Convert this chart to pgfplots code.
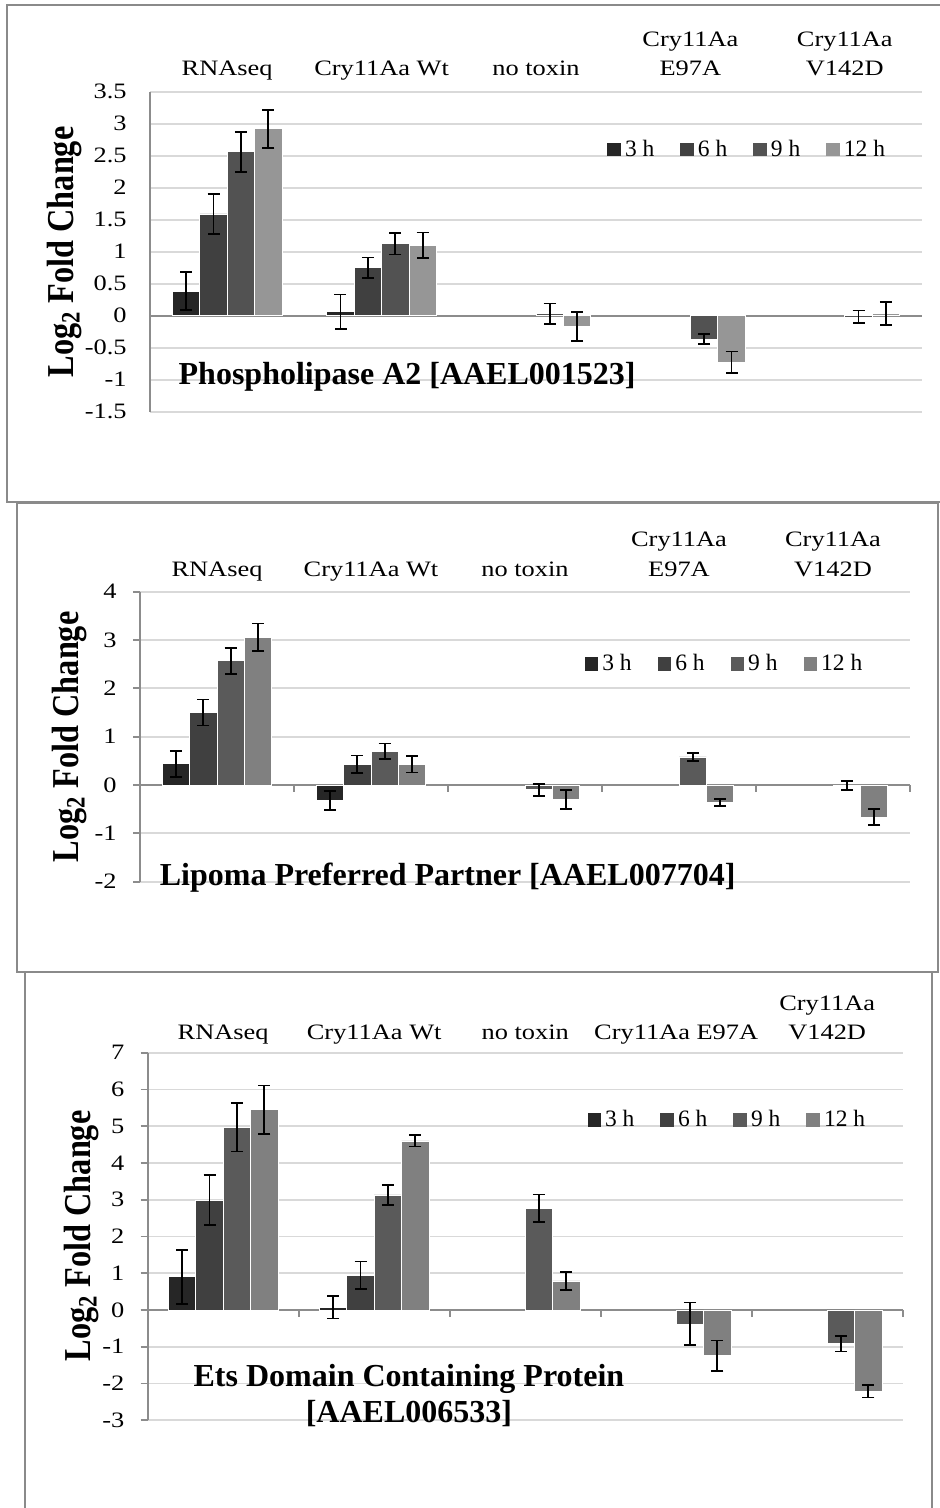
\documentclass[border=0pt]{standalone}
\usepackage{pgfplots}
\pgfplotsset{compat=1.18}
\usepackage{pgfplotstable}
\usepackage{fontspec}
\setmainfont{Liberation Serif}
\newfontfamily\strfont[FakeStretch=1.2]{Liberation Serif}
\newfontfamily\ylabfont[FakeStretch=0.85]{Liberation Serif}
\definecolor{cA}{HTML}{262626}
\definecolor{cB}{HTML}{404040}
\definecolor{cC}{HTML}{525252}
\definecolor{cD}{HTML}{969696}
\definecolor{cCC}{HTML}{5A5A5A}
\definecolor{cDD}{HTML}{808080}
\definecolor{gridc}{HTML}{D9D9D9}
\definecolor{axc}{HTML}{8C8C8C}
\definecolor{framec}{HTML}{8A8A8A}
\newcommand\catfont{\strfont\fontsize{11}{11}\selectfont}
\newcommand\titfont{\bfseries\fontsize{16}{16}\selectfont}
\newcommand\ylfont{\ylabfont\bfseries\fontsize{19}{19}\selectfont}

\pgfplotstableread{
x   y3    e3   y6   e6   y9     e9   y12   e12
0.5 0.385 0.30 1.59 0.31 2.56   0.31 2.92  0.30
1.5 0.06  0.27 0.75 0.16 1.125  0.17 1.10  0.20
2.5 nan   nan  nan  nan  0.03   0.16 -0.17 0.23
3.5 nan   nan  nan  nan  -0.365 0.08 -0.73 0.17
4.5 nan   nan  nan  nan  -0.02  0.10 0.04  0.18
}\tblA
\pgfplotstableread{
x   y3    e3   y6   e6   y9    e9   y12   e12
0.5 0.44  0.27 1.50 0.27 2.57  0.27 3.06  0.28
1.5 -0.32 0.19 0.43 0.18 0.70  0.16 0.43  0.17
2.5 nan   nan  nan  nan  -0.10 0.12 -0.30 0.19
3.5 nan   nan  nan  nan  0.58  0.08 -0.36 0.075
4.5 nan   nan  nan  nan  -0.01 0.10 -0.66 0.17
}\tblB
\pgfplotstableread{
x   y3    e3   y6   e6   y9    e9   y12   e12
0.5 0.90  0.73 2.99 0.68 4.97  0.66 5.45  0.66
1.5 0.07  0.30 0.94 0.38 3.13  0.27 4.60  0.15
2.5 nan   nan  nan  nan  2.77  0.37 0.79  0.25
3.5 nan   nan  nan  nan  -0.38 0.58 -1.25 0.42
4.5 nan   nan  nan  nan  -0.92 0.21 -2.21 0.17
}\tblC

\pgfplotsset{
 panel/.style={
  scale only axis,
  xmin=0, xmax=5,
  axis x line=none,
  axis y line*=left,
  y axis line style={axc, line width=0.9pt},
  ymajorgrids,
  grid style={gridc, line width=0.9pt},
  xtick=\empty,
  ybar=0pt, bar width=13.7pt,
  clip=false,
  tick style={axc, line width=0.9pt},
  ytick align=outside,
  yticklabel style={font=\strfont\fontsize{11}{12}\selectfont, inner sep=0pt, anchor=east},
  /pgf/number format/assume math mode=true,
  /pgf/number format/fixed,
  extra y ticks={0},
  extra y tick labels={},
  extra y tick style={grid style={axc, line width=0.9pt}},
  legend style={draw=none, fill=none, legend columns=4, font=\fontsize{11.75}{12}\selectfont, inner sep=0pt, anchor=west, /tikz/every even column/.append style={column sep=11pt}},
  legend image code/.code={\path[##1, draw=none] (0pt,-3.4pt) rectangle (6.8pt,3.4pt);},
  every axis plot/.append style={draw=white, line width=0.4pt},
  error bars/y dir=both, error bars/y explicit,
  error bars/error bar style={black, line width=0.9pt},
  error bars/error mark options={black, rotate=90, mark size=3pt, line width=0.9pt},
 },
}

\begin{document}
\begin{tikzpicture}
\useasboundingbox (0,0) rectangle (469.5pt,754pt);
\draw[framec, line width=1pt] (3.5pt,751.5pt) rectangle (476pt,503pt);
\draw[framec, line width=1pt, fill=white] (8.5pt,502.5pt) rectangle (469pt,268pt);
\draw[framec, line width=1pt, fill=white] (12.5pt,268pt) rectangle (466pt,-10pt);

% ---------- Panel 1 ----------
\begin{axis}[panel, at={(75pt,548.15pt)}, anchor=south west,
  width=386pt, height=160pt, ymin=-1.5, ymax=3.5, ytick distance=0.5,
  major tick length=0pt,
  yticklabel style={xshift=-11.5pt},
  legend style={at={(0.592,0.819)}}]
\addplot[fill=cA] table[x=x, y=y3, y error=e3] {\tblA};
\addplot[fill=cB] table[x=x, y=y6, y error=e6] {\tblA};
\addplot[fill=cC] table[x=x, y=y9, y error=e9] {\tblA};
\addplot[fill=cD] table[x=x, y=y12, y error=e12] {\tblA};
\legend{3 h, 6 h, 9 h, 12 h}
\node[font=\catfont, anchor=base, yshift=7.85pt] at (axis cs:0.5,3.5) {RNAseq};
\node[font=\catfont, anchor=base, yshift=7.85pt] at (axis cs:1.5,3.5) {Cry11Aa Wt};
\node[font=\catfont, anchor=base, yshift=7.85pt] at (axis cs:2.5,3.5) {no toxin};
\node[font=\catfont, anchor=base, yshift=22.35pt] at (axis cs:3.5,3.5) {Cry11Aa};
\node[font=\catfont, anchor=base, yshift=7.85pt] at (axis cs:3.5,3.5) {E97A};
\node[font=\catfont, anchor=base, yshift=22.35pt] at (axis cs:4.5,3.5) {Cry11Aa};
\node[font=\catfont, anchor=base, yshift=7.85pt] at (axis cs:4.5,3.5) {V142D};
\node[font=\titfont, anchor=base west] at (axis cs:0.14,-1.08) {Phospholipase A2 [AAEL001523]};
\end{axis}
\node[rotate=90, font=\ylfont] at (32.5pt,628pt) {Log\textsubscript{2} Fold Change};

% ---------- Panel 2 ----------
\begin{axis}[panel, at={(70pt,313.15pt)}, anchor=south west,
  width=385pt, height=145pt, ymin=-2, ymax=4, ytick distance=1,
  major tick length=3.5pt,
  yticklabel style={xshift=-8pt},
  legend style={at={(0.577,0.751)}}]
\addplot[fill=cA] table[x=x, y=y3, y error=e3] {\tblB};
\addplot[fill=cB] table[x=x, y=y6, y error=e6] {\tblB};
\addplot[fill=cCC] table[x=x, y=y9, y error=e9] {\tblB};
\addplot[fill=cDD] table[x=x, y=y12, y error=e12] {\tblB};
\legend{3 h, 6 h, 9 h, 12 h}
\pgfplotsinvokeforeach{1,2,3,4,5}{\draw[axc, line width=0.9pt] (axis cs:#1,0) -- ++(0pt,-3.5pt);}
\node[font=\catfont, anchor=base, yshift=7.85pt] at (axis cs:0.5,4) {RNAseq};
\node[font=\catfont, anchor=base, yshift=7.85pt] at (axis cs:1.5,4) {Cry11Aa Wt};
\node[font=\catfont, anchor=base, yshift=7.85pt] at (axis cs:2.5,4) {no toxin};
\node[font=\catfont, anchor=base, yshift=22.85pt] at (axis cs:3.5,4) {Cry11Aa};
\node[font=\catfont, anchor=base, yshift=7.85pt] at (axis cs:3.5,4) {E97A};
\node[font=\catfont, anchor=base, yshift=22.85pt] at (axis cs:4.5,4) {Cry11Aa};
\node[font=\catfont, anchor=base, yshift=7.85pt] at (axis cs:4.5,4) {V142D};
\node[font=\titfont, anchor=base west] at (axis cs:0.083,-2.07) {Lipoma Preferred Partner [AAEL007704]};
\end{axis}
\node[rotate=90, font=\ylfont] at (35pt,385.5pt) {Log\textsubscript{2} Fold Change};

% ---------- Panel 3 ----------
\begin{axis}[panel, at={(73.85pt,43.9pt)}, anchor=south west,
  width=377.5pt, height=183.75pt, ymin=-3, ymax=7, ytick distance=1,
  major tick length=3.5pt,
  yticklabel style={xshift=-8pt},
  legend style={at={(0.582,0.817)}}]
\addplot[fill=cA] table[x=x, y=y3, y error=e3] {\tblC};
\addplot[fill=cB] table[x=x, y=y6, y error=e6] {\tblC};
\addplot[fill=cCC] table[x=x, y=y9, y error=e9] {\tblC};
\addplot[fill=cDD] table[x=x, y=y12, y error=e12] {\tblC};
\legend{3 h, 6 h, 9 h, 12 h}
\pgfplotsinvokeforeach{1,2,3,4,5}{\draw[axc, line width=0.9pt] (axis cs:#1,0) -- ++(0pt,-3.5pt);}
\node[font=\catfont, anchor=base, yshift=6.4pt] at (axis cs:0.5,7) {RNAseq};
\node[font=\catfont, anchor=base, yshift=6.4pt] at (axis cs:1.5,7) {Cry11Aa Wt};
\node[font=\catfont, anchor=base, yshift=6.4pt] at (axis cs:2.5,7) {no toxin};
\node[font=\catfont, anchor=base, yshift=6.4pt] at (axis cs:3.5,7) {Cry11Aa E97A};
\node[font=\catfont, anchor=base, yshift=20.9pt] at (axis cs:4.5,7) {Cry11Aa};
\node[font=\catfont, anchor=base, yshift=6.4pt] at (axis cs:4.5,7) {V142D};
\node[font=\titfont, anchor=base] at (axis cs:1.73,-2.07) {Ets Domain Containing Protein};
\node[font=\titfont, anchor=base] at (axis cs:1.73,-3.05) {[AAEL006533]};
\end{axis}
\node[rotate=90, font=\ylfont] at (41pt,136pt) {Log\textsubscript{2} Fold Change};
\end{tikzpicture}
\end{document}
